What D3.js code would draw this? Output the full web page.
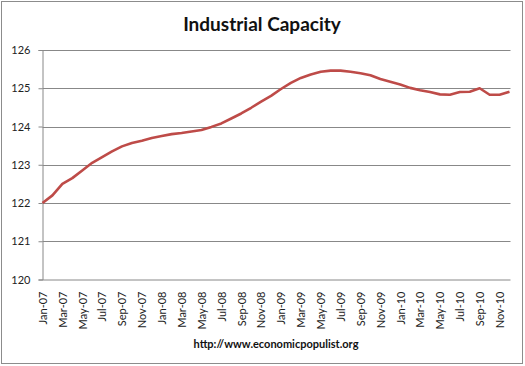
<!DOCTYPE html>
<html><head><meta charset="utf-8">
<script src="https://cdn.jsdelivr.net/npm/d3@7"></script>
<style>body{margin:0;background:#fff}svg{display:block}</style>
</head><body>
<svg id="c" width="525" height="366"></svg>
<script>
const months = ["Jan","Feb","Mar","Apr","May","Jun","Jul","Aug","Sep","Oct","Nov","Dec"];
const categories = [];
for (const yr of ["07","08","09","10"]) for (const m of months) categories.push(m + "-" + yr);
const values = [
  122.00,122.20,122.50,122.65,122.85,123.05,123.20,123.35,123.48,123.57,123.63,123.70,
  123.75,123.80,123.83,123.87,123.91,123.99,124.08,124.21,124.34,124.49,124.65,124.80,
  124.98,125.14,125.27,125.36,125.43,125.46,125.46,125.43,125.39,125.34,125.24,125.17,
  125.10,125.01,124.95,124.90,124.84,124.83,124.90,124.91,125.00,124.83,124.83,124.91
];
const yTicks = [120,121,122,123,124,125,126];
const title = "Industrial Capacity";
const footer = "http://www.economicpopulist.org";

const svg = d3.select("#c");
svg.append("rect").attr("x",1.5).attr("y",1.5).attr("width",521).attr("height",362)
  .attr("fill","#fff").attr("stroke","#8c8c8c").attr("stroke-width",1);

const L = 42.5, R = 509.5, T = 50, B = 279.5;
const x = d3.scalePoint().domain(categories).range([L, R]);
const y = d3.scaleLinear().domain([120,126]).range([B, T]);

// gridlines
svg.append("g").selectAll("line").data(yTicks.filter(t => t > 120)).join("line")
  .attr("x1", L).attr("x2", R + 1).attr("y1", d => Math.round(y(d)) + 0.5).attr("y2", d => Math.round(y(d)) + 0.5)
  .attr("stroke","#888").attr("stroke-width",1);

// y axis
const yAxis = svg.append("g").attr("transform",`translate(${L},0)`)
  .call(d3.axisLeft(y).tickValues(yTicks).tickSize(4).tickPadding(8).tickFormat(d3.format("d")));
yAxis.select(".domain").attr("stroke","#888");
yAxis.selectAll(".tick line").attr("stroke","#888");
yAxis.selectAll("text").attr("font-family","Lato, 'Open Sans', sans-serif").attr("font-size",11).attr("fill","#222");

// x axis
const xAxis = svg.append("g").attr("transform",`translate(0,${B})`)
  .call(d3.axisBottom(x).tickValues(categories.filter((d,i) => i % 2 === 0)).tickSize(0).tickPadding(0));
xAxis.select(".domain").attr("stroke","#888").attr("d", `M${L},0.5H${R+1}`);
xAxis.selectAll("text")
  .attr("font-family","Lato, 'Open Sans', sans-serif").attr("font-size",11).attr("fill","#222")
  .attr("text-anchor","end").attr("dy","0.35em")
  .attr("transform","translate(0,12) rotate(-90)");

// line
svg.append("path").datum(values)
  .attr("fill","none").attr("stroke","#BE4B48").attr("stroke-width",2.6).attr("stroke-linejoin","round")
  .attr("d", d3.line().x((d,i) => x(categories[i])).y(d => y(d)));

svg.append("text").attr("x",262).attr("y",31).attr("text-anchor","middle")
  .attr("font-family","Lato, 'Open Sans', sans-serif").attr("font-weight","bold").attr("font-size",19)
  .attr("fill","#111").text(title);

svg.append("text").attr("x",276).attr("y",348).attr("text-anchor","middle")
  .attr("font-family","Lato, 'Open Sans', sans-serif").attr("font-weight","bold").attr("font-size",11)
  .attr("fill","#111").text(footer);
</script>
</body></html>
